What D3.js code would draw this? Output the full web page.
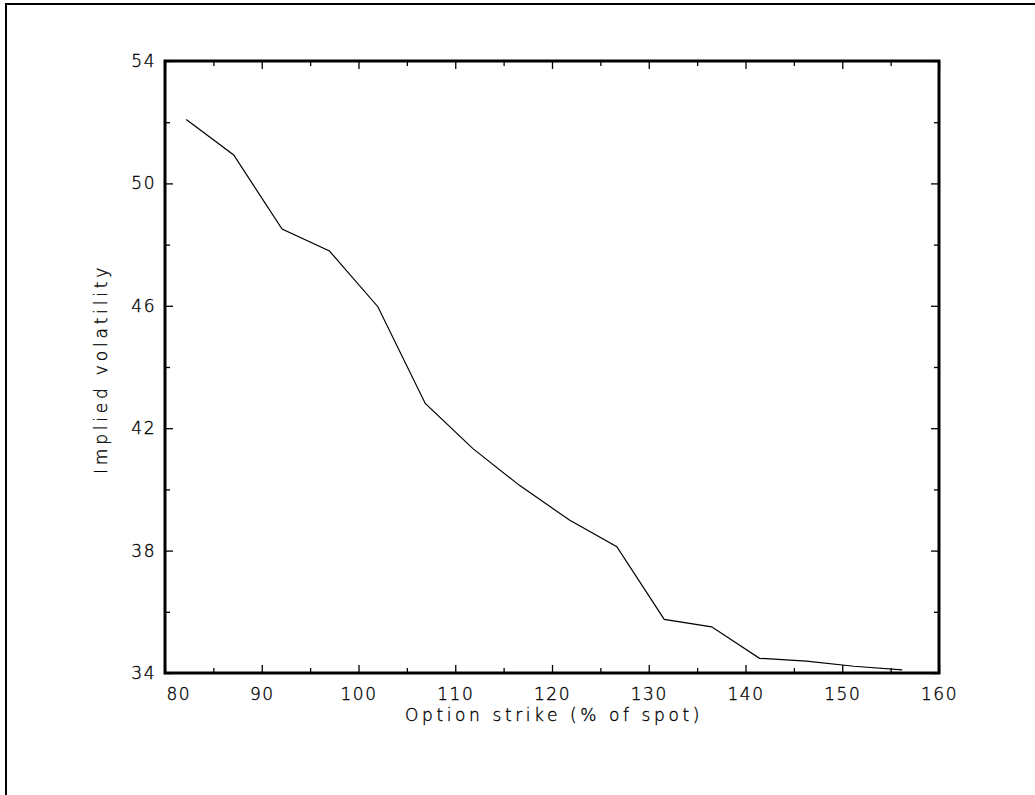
<!DOCTYPE html>
<html>
<head>
<meta charset="utf-8">
<script src="https://cdn.jsdelivr.net/npm/d3@7"></script>
<style>
  html, body { margin: 0; padding: 0; background: #fff; }
  svg { display: block; }
  text { font-family: "DejaVu Sans", sans-serif; font-weight: 200; fill: #000; stroke: #000; stroke-width: 0.35px; }
</style>
</head>
<body>
<svg id="chart" width="1035" height="795"></svg>
<script>
// Data
const strikes = [82.2, 87.1, 92.1, 97.0, 102.0, 106.9, 111.8, 116.6, 121.8, 126.7, 131.6, 136.5, 141.45, 146.3, 151.2, 156.2];
const vols    = [52.09, 50.93, 48.51, 47.79, 45.97, 42.81, 41.34, 40.14, 39.0, 38.13, 35.75, 35.51, 34.48, 34.39, 34.22, 34.10];
const xMajorTicks = [80, 90, 100, 110, 120, 130, 140, 150, 160];
const xMinorTicks = [85, 95, 105, 115, 125, 135, 145, 155];
const yMajorTicks = [34, 38, 42, 46, 50, 54];
const yMinorTicks = [36, 40, 44, 48, 52];
const xTitle = "Option strike (% of spot)";
const yTitle = "Implied volatility";

const svg = d3.select("#chart");
const L = 165, R = 939, T = 61, B = 673;

// outer frame (extends beyond the canvas on right/bottom)
svg.append("rect").attr("x", 6).attr("y", 4).attr("width", 1100).attr("height", 900)
  .attr("fill", "none").attr("stroke", "#000").attr("stroke-width", 2);

const x = d3.scaleLinear().domain([80, 160]).range([L, R]);
const y = d3.scaleLinear().domain([34, 54]).range([B, T]);

function addAxis(gen, tx, ty) {
  const g = svg.append("g").attr("transform", `translate(${tx},${ty})`).call(gen);
  g.select(".domain").remove();
  g.selectAll(".tick line").attr("stroke", "#000").attr("stroke-width", 1.3);
  return g;
}

// bottom
const gxb = addAxis(d3.axisBottom(x).tickValues(xMajorTicks).tickSize(-8).tickPadding(0).tickFormat(d3.format("d")), 0, B);
gxb.selectAll("text").attr("font-size", 17).attr("y", 27).attr("dy", null).style("letter-spacing", "1.5px");
gxb.selectAll(".tick").filter(d => d === 80).select("text").attr("text-anchor", "start").attr("x", 1);
addAxis(d3.axisBottom(x).tickValues(xMinorTicks).tickSize(-5).tickFormat(""), 0, B);
// top
addAxis(d3.axisTop(x).tickValues(xMajorTicks).tickSize(-8).tickFormat(""), 0, T);
addAxis(d3.axisTop(x).tickValues(xMinorTicks).tickSize(-5).tickFormat(""), 0, T);
// left
const gyl = addAxis(d3.axisLeft(y).tickValues(yMajorTicks).tickSize(-8).tickPadding(9).tickFormat(d3.format("d")), L, 0);
gyl.selectAll("text").attr("font-size", 17).style("letter-spacing", "1.5px");
addAxis(d3.axisLeft(y).tickValues(yMinorTicks).tickSize(-5).tickFormat(""), L, 0);
// right
addAxis(d3.axisRight(y).tickValues(yMajorTicks).tickSize(-8).tickFormat(""), R, 0);
addAxis(d3.axisRight(y).tickValues(yMinorTicks).tickSize(-5).tickFormat(""), R, 0);

// plot box
svg.append("rect").attr("x", L).attr("y", T).attr("width", R - L).attr("height", B - T)
  .attr("fill", "none").attr("stroke", "#000").attr("stroke-width", 3);

// line
const line = d3.line().x((d, i) => x(strikes[i])).y(d => y(d));
svg.append("path").datum(vols).attr("d", line)
  .attr("fill", "none").attr("stroke", "#000").attr("stroke-width", 1.2);

// titles
svg.append("text").attr("x", (L + R) / 2 + 2).attr("y", 721).attr("text-anchor", "middle")
  .attr("font-size", 17).style("letter-spacing", "3.6px").text(xTitle);
svg.append("text").attr("transform", `translate(107,${(T + B) / 2 + 2}) rotate(-90)`)
  .attr("text-anchor", "middle").attr("font-size", 17).style("letter-spacing", "3.8px").text(yTitle);
</script>
</body>
</html>
